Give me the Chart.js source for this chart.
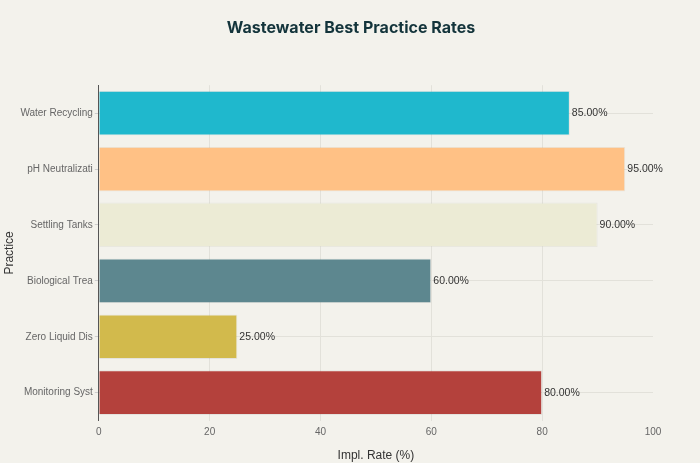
<!DOCTYPE html>
<html>
<head>
<meta charset="utf-8">
<script src="https://cdn.jsdelivr.net/npm/chart.js@4"></script>
<style>
  html, body { margin: 0; padding: 0; background: #F3F2EC; }
  #wrap { width: 700px; height: 463px; }
</style>
</head>
<body>
<div id="wrap"><canvas id="chart"></canvas></div>
<script>
// practice names as shown (cut off) in the picture
const practices = ['Water Recycling', 'pH Neutralizati', 'Settling Tanks', 'Biological Trea', 'Zero Liquid Dis', 'Monitoring Syst'];
const rates = [85, 95, 90, 60, 25, 80];
const barColors = ['#1FB8CD', '#FFC185', '#ECEBD5', '#5D878F', '#D2BA4C', '#B4413C'];
const xTicks = [0, 20, 40, 60, 80, 100];

// writes "85.00%" at the end of each bar
const valueLabels = {
  id: 'valueLabels',
  afterDatasetsDraw(chart) {
    const ctx = chart.ctx;
    const meta = chart.getDatasetMeta(0);
    ctx.save();
    ctx.font = '10.5px "Liberation Sans", Arial, sans-serif';
    ctx.fillStyle = '#333';
    ctx.textBaseline = 'middle';
    meta.data.forEach((bar, i) => {
      ctx.fillText(rates[i].toFixed(2) + '%', bar.x + 2, bar.y);
    });
    ctx.restore();
  }
};

new Chart(document.getElementById('chart'), {
  type: 'bar',
  data: {
    labels: practices,
    datasets: [{
      data: rates,
      backgroundColor: barColors,
      borderColor: 'rgba(0,0,0,0.06)',
      borderWidth: 1,
      barPercentage: 1,
      categoryPercentage: 0.8
    }]
  },
  options: {
    indexAxis: 'y',
    responsive: true,
    maintainAspectRatio: false,
    animation: false,
    layout: { padding: { left: 2, right: 0, bottom: 0 } },
    plugins: {
      legend: { display: false },
      tooltip: { enabled: false },
      title: {
        display: true,
        text: 'Wastewater Best Practice Rates',
        color: '#13343B',
        font: { family: 'Inter, "Liberation Sans", sans-serif', size: 16, weight: 'bold' },
        padding: { top: 19, bottom: 47 }
      }
    },
    scales: {
      x: {
        min: 0,
        max: 100,
        afterBuildTicks: (axis) => { axis.ticks = xTicks.map(v => ({ value: v })); },
        // keep room on the right without shifting the centred title
        afterFit: (axis) => { axis.paddingRight = 47; },
        grid: {
          color: (c) => (c.tick && c.tick.value === 100 ? 'rgba(0,0,0,0)' : '#E2E1DA'),
          drawTicks: false
        },
        border: { display: false },
        ticks: { color: '#666', padding: 6, font: { family: '"Liberation Sans", Arial, sans-serif', size: 10 } },
        title: { display: true, text: 'Impl. Rate (%)', color: '#333', padding: { top: 4, bottom: 0 },
                 font: { family: '"Liberation Sans", Arial, sans-serif', size: 12 } }
      },
      y: {
        grid: { offset: false, color: '#E2E1DA', drawTicks: true, tickLength: 4, tickColor: '#ccc' },
        border: { display: true, color: '#555', width: 1 },
        ticks: { color: '#666', padding: 2, font: { family: '"Liberation Sans", Arial, sans-serif', size: 10 } },
        title: { display: true, text: 'Practice', color: '#333', padding: { top: 0, bottom: 2 },
                 font: { family: '"Liberation Sans", Arial, sans-serif', size: 12 } }
      }
    }
  },
  plugins: [valueLabels]
});
</script>
</body>
</html>
